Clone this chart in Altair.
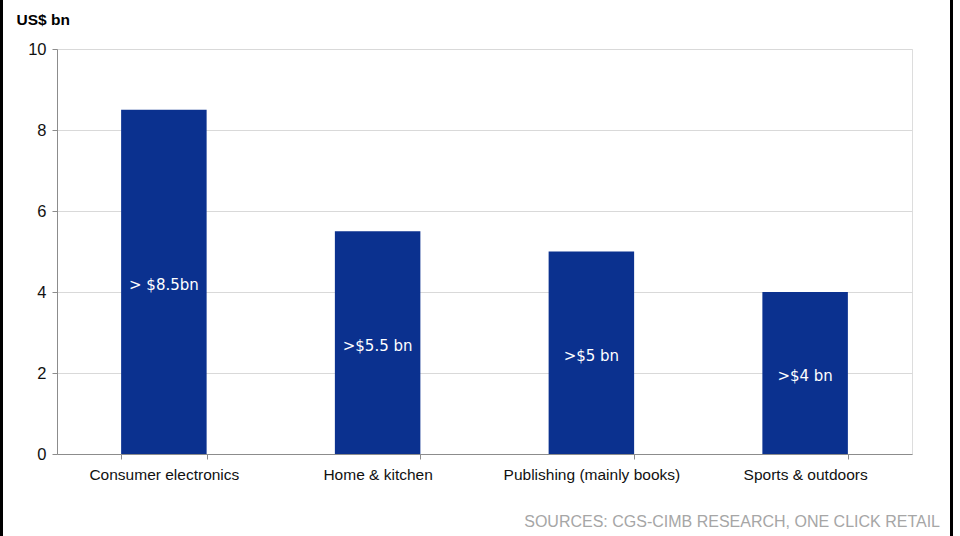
import altair as alt
import pandas as pd

categories = ["Consumer electronics", "Home & kitchen", "Publishing (mainly books)", "Sports & outdoors"]
values = [8.5, 5.5, 5.0, 4.0]
bar_labels = ["> $8.5bn", ">$5.5 bn", ">$5 bn", ">$4 bn"]
y_ticks = [0, 2, 4, 6, 8, 10]
source_text = ["SOURCES: CGS-CIMB RESEARCH, ONE CLICK RETAIL"]

df = pd.DataFrame({"category": categories, "value": values, "label": bar_labels})
src = pd.DataFrame({"t": source_text})

AXIS_GRAY = "#8c8c8c"
BAR_BLUE = "#0b318f"

base = alt.Chart(df)

bars = base.mark_bar(color=BAR_BLUE).encode(
    x=alt.X(
        "category:N",
        sort=categories,
        scale=alt.Scale(paddingInner=0.6, paddingOuter=0.3),
        axis=alt.Axis(
            title=None,
            labelAngle=0,
            labelFont="Liberation Sans",
            labelFontSize=15.5,
            labelColor="#111111",
            labelPadding=8,
            tickBand="extent",
            tickSize=5,
            tickColor=AXIS_GRAY,
            domainColor=AXIS_GRAY,
            grid=False,
        ),
    ),
    y=alt.Y(
        "value:Q",
        scale=alt.Scale(domain=[0, 10], nice=False),
        axis=alt.Axis(
            values=y_ticks,
            title="US$ bn",
            titleAngle=0,
            titleX=-41,
            titleY=-25,
            titleAlign="left",
            titleBaseline="alphabetic",
            titleFont="Liberation Sans",
            titleFontSize=15.5,
            titleFontWeight="bold",
            titleColor="#000000",
            labelFont="Liberation Sans",
            labelFontSize=16.5,
            labelColor="#111111",
            labelPadding=6,
            tickSize=5,
            tickColor=AXIS_GRAY,
            domainColor=AXIS_GRAY,
            gridColor="#d9d9d9",
            gridWidth=1,
        ),
    ),
)

texts = base.transform_calculate(mid="datum.value / 2").mark_text(
    color="white", font="DejaVu Sans", fontSize=15, baseline="middle", dy=3
).encode(
    x=alt.X("category:N", sort=categories),
    y=alt.Y("mid:Q"),
    text="label:N",
)

source = alt.Chart(src).mark_text(
    font="Liberation Sans", fontSize=16, color="#a6a6a6", align="right", baseline="middle"
).encode(x=alt.value(883), y=alt.value(473), text="t:N")

left_border = base.mark_rule(color="black", strokeWidth=3).encode(
    x=alt.value(-55.5), y=alt.value(-49), y2=alt.value(487)
)
right_border = base.mark_rule(color="black", strokeWidth=3).encode(
    x=alt.value(894.5), y=alt.value(-49), y2=alt.value(487)
)

chart = (
    alt.layer(bars, texts, source, left_border, right_border)
    .properties(
        width=855,
        height=405,
        autosize=alt.AutoSizeParams(type="none"),
        padding={"left": 57, "top": 49, "right": 48, "bottom": 82},
    )
    .configure_view(stroke=None)
    .configure(background="white")
)

chart.save("out.html", embed_options={"renderer": "svg", "actions": False})
